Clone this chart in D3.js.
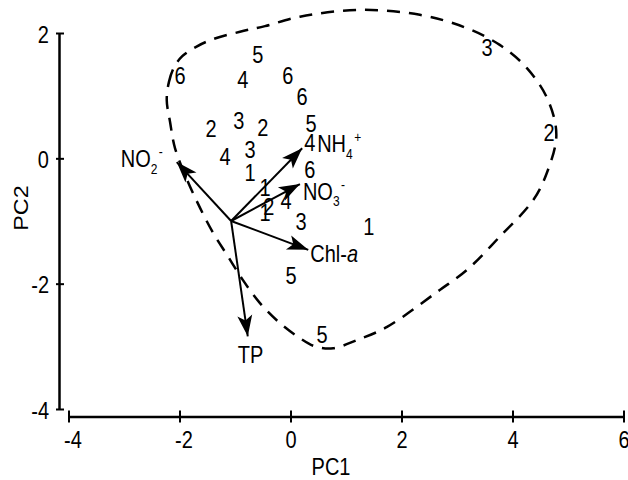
<!DOCTYPE html>
<html>
<head>
    <title>PCA Biplot</title>
    <script src="https://d3js.org/d3.v7.min.js"></script>
    <style>
        body { margin: 0; background: #fff; }
        svg { display: block; background: #fff; }
        text { font-family: "Liberation Sans", Arial, sans-serif; fill: #000; }
    </style>
</head>
<body>
    <svg id="visual" width="628" height="480"></svg>

    <script>
        // Sample scores (label = group number)
        const pc1 = [-0.73, -0.46, -0.46, 1.41,  -1.43, -0.50, -0.39, 4.66,
                     -0.93, -0.73, 0.19, 3.54,   -0.86, -1.18, -0.08, 0.35,
                     -0.59, 0.37, 0.01, 0.57,    -1.99, -0.05, 0.21, 0.35];
        const pc2 = [-0.23, -0.47, -0.87, -1.10,  0.47, 0.48, -0.78, 0.40,
                     0.60, 0.13, -1.02, 1.76,     1.25, 0.02, -0.68, 0.24,
                     1.65, 0.55, -1.88, -2.82,    1.31, 1.31, 0.98, -0.19];
        const group = [1, 1, 1, 1, 2, 2, 2, 2, 3, 3, 3, 3,
                       4, 4, 4, 4, 5, 5, 5, 5, 6, 6, 6, 6];

        // Loading vectors (start + tip, in PC units)
        const arrowOrigin = [-1.07, -1.00];
        const variables = ["NO2", "NH4", "NO3", "Chl", "TP"];
        const tipPC1 = [-2.05, 0.21, 0.17, 0.32, -0.77];
        const tipPC2 = [-0.06, 0.16, -0.41, -1.46, -2.84];

        // Dashed hull outline
        const hullPC1 = [-2.23, -2.19, -2.10, -1.95, -1.70, -1.40, -0.91, -0.46, 0.17, 1.25, 2.33, 3.14, 3.77,
                         4.26, 4.64, 4.79, 4.62, 4.37, 3.77, 3.18, 2.69, 1.74, 1.20, 0.77, 0.44,
                         0.17, -0.19, -0.55, -0.86, -1.13, -1.40, -1.63, -1.86, -2.08, -2.17];
        const hullPC2 = [0.93, 1.22, 1.45, 1.63, 1.78, 1.90, 2.02, 2.11, 2.26, 2.37, 2.29, 2.09, 1.81,
                         1.44, 0.93, 0.37, -0.23, -0.67, -1.25, -1.78, -2.10, -2.69, -2.90, -3.03, -3.00,
                         -2.87, -2.63, -2.31, -1.94, -1.56, -1.18, -0.79, -0.35, 0.16, 0.58];

        const xTicks = [-4, -2, 0, 2, 4, 6];
        const yTicks = [-4, -2, 0, 2];

        const S = 1.17; // vertical stretch of the original text
        const fs = 20;

        const svg = d3.select("#visual");
        const x = d3.scaleLinear().domain([-4, 6]).range([68.5, 623.5]);
        const y = d3.scaleLinear().domain([-4, 2]).range([409, 33]);

        // Axes
        const gx = svg.append("g")
            .attr("transform", "translate(0,416.5)")
            .call(d3.axisBottom(x).tickValues(xTicks).tickSizeOuter(0).tickFormat(d => String(d)));
        gx.select(".domain").attr("stroke-width", 2.5);
        gx.selectAll(".tick line").attr("y1", -6).attr("y2", 6).attr("stroke-width", 2);
        gx.selectAll(".tick text")
            .attr("y", null).attr("dy", null)
            .attr("font-size", fs)
            .attr("transform", d => `translate(${d < 0 ? 4 : 0},31) scale(1,${S})`);

        const gy = svg.append("g")
            .attr("transform", "translate(59,0)")
            .call(d3.axisLeft(y).tickValues(yTicks).tickSizeOuter(0).tickFormat(d => String(d)));
        gy.select(".domain").attr("stroke-width", 2.5);
        gy.selectAll(".tick line").attr("x1", -3).attr("x2", 5).attr("stroke-width", 2);
        gy.selectAll(".tick text")
            .attr("x", null).attr("dy", null)
            .attr("font-size", fs)
            .attr("transform", `translate(-10,9) scale(1,${S})`);
        svg.selectAll(".tick text").attr("font-family", "Liberation Sans, Arial, sans-serif").attr("fill", "#000");

        svg.append("text")
            .attr("font-size", fs)
            .attr("text-anchor", "middle")
            .attr("transform", `translate(331,475) scale(1,${S})`)
            .text("PC1");
        svg.append("text")
            .attr("font-size", fs)
            .attr("text-anchor", "middle")
            .attr("transform", `translate(28,${(y(2) + y(-4)) / 2 - 13}) rotate(-90) scale(${S},1)`)
            .text("PC2");

        // Hull
        const hull = hullPC1.map((v, i) => [v, hullPC2[i]]);
        svg.append("path")
            .datum(hull)
            .attr("fill", "none")
            .attr("stroke", "#000")
            .attr("stroke-width", 2.5)
            .attr("stroke-dasharray", "13,9")
            .attr("d", d3.line().x(d => x(d[0])).y(d => y(d[1])).curve(d3.curveCatmullRomClosed));

        // Sample labels
        const pts = pc1.map((v, i) => ({ x: v, y: pc2[i], g: group[i] }));
        svg.selectAll("text.pt")
            .data(pts)
            .enter()
            .append("text")
            .attr("class", "pt")
            .attr("font-size", fs)
            .attr("text-anchor", "middle")
            .attr("transform", d => `translate(${x(d.x)},${y(d.y) + 8}) scale(1,${S})`)
            .text(d => d.g);

        // Arrows
        svg.append("defs").append("marker")
            .attr("id", "head")
            .attr("viewBox", "-22 -8 23 16")
            .attr("refX", 0).attr("refY", 0)
            .attr("markerWidth", 23).attr("markerHeight", 16)
            .attr("markerUnits", "userSpaceOnUse")
            .attr("orient", "auto")
            .append("path")
            .attr("d", "M0,0L-21,-7.5L-16,0L-21,7.5Z")
            .attr("fill", "#000");

        const arrows = variables.map((v, i) => ({ name: v, x: tipPC1[i], y: tipPC2[i] }));
        svg.selectAll("line.arrow")
            .data(arrows)
            .enter()
            .append("line")
            .attr("class", "arrow")
            .attr("x1", x(arrowOrigin[0])).attr("y1", y(arrowOrigin[1]))
            .attr("x2", d => x(d.x)).attr("y2", d => y(d.y))
            .attr("stroke", "#000")
            .attr("stroke-width", 2)
            .attr("marker-end", "url(#head)");

        // Arrow labels: offset from tip in px
        const labelOffset = { NO2: [-56, 5], NH4: [15, 4], NO3: [3, 16], Chl: [2, 12], TP: [-10, 27] };
        const sub = { NO2: ["NO", "2", "-"], NH4: ["NH", "4", "+"], NO3: ["NO", "3", "-"] };

        arrows.forEach(d => {
            const off = labelOffset[d.name];
            const t = svg.append("text")
                .attr("font-size", fs)
                .attr("transform", `translate(${x(d.x) + off[0]},${y(d.y) + off[1]}) scale(1,${S})`);
            if (sub[d.name]) {
                const s = sub[d.name];
                t.append("tspan").text(s[0]);
                t.append("tspan").attr("font-size", 12).attr("dy", 5.5).text(s[1]);
                t.append("tspan").attr("font-size", 12).attr("dx", 1.5).attr("dy", -14).text(s[2]);
            } else if (d.name === "Chl") {
                t.append("tspan").text("Chl-");
                t.append("tspan").attr("font-style", "italic").text("a");
            } else {
                t.text(d.name);
            }
        });
    </script>
</body>
</html>
